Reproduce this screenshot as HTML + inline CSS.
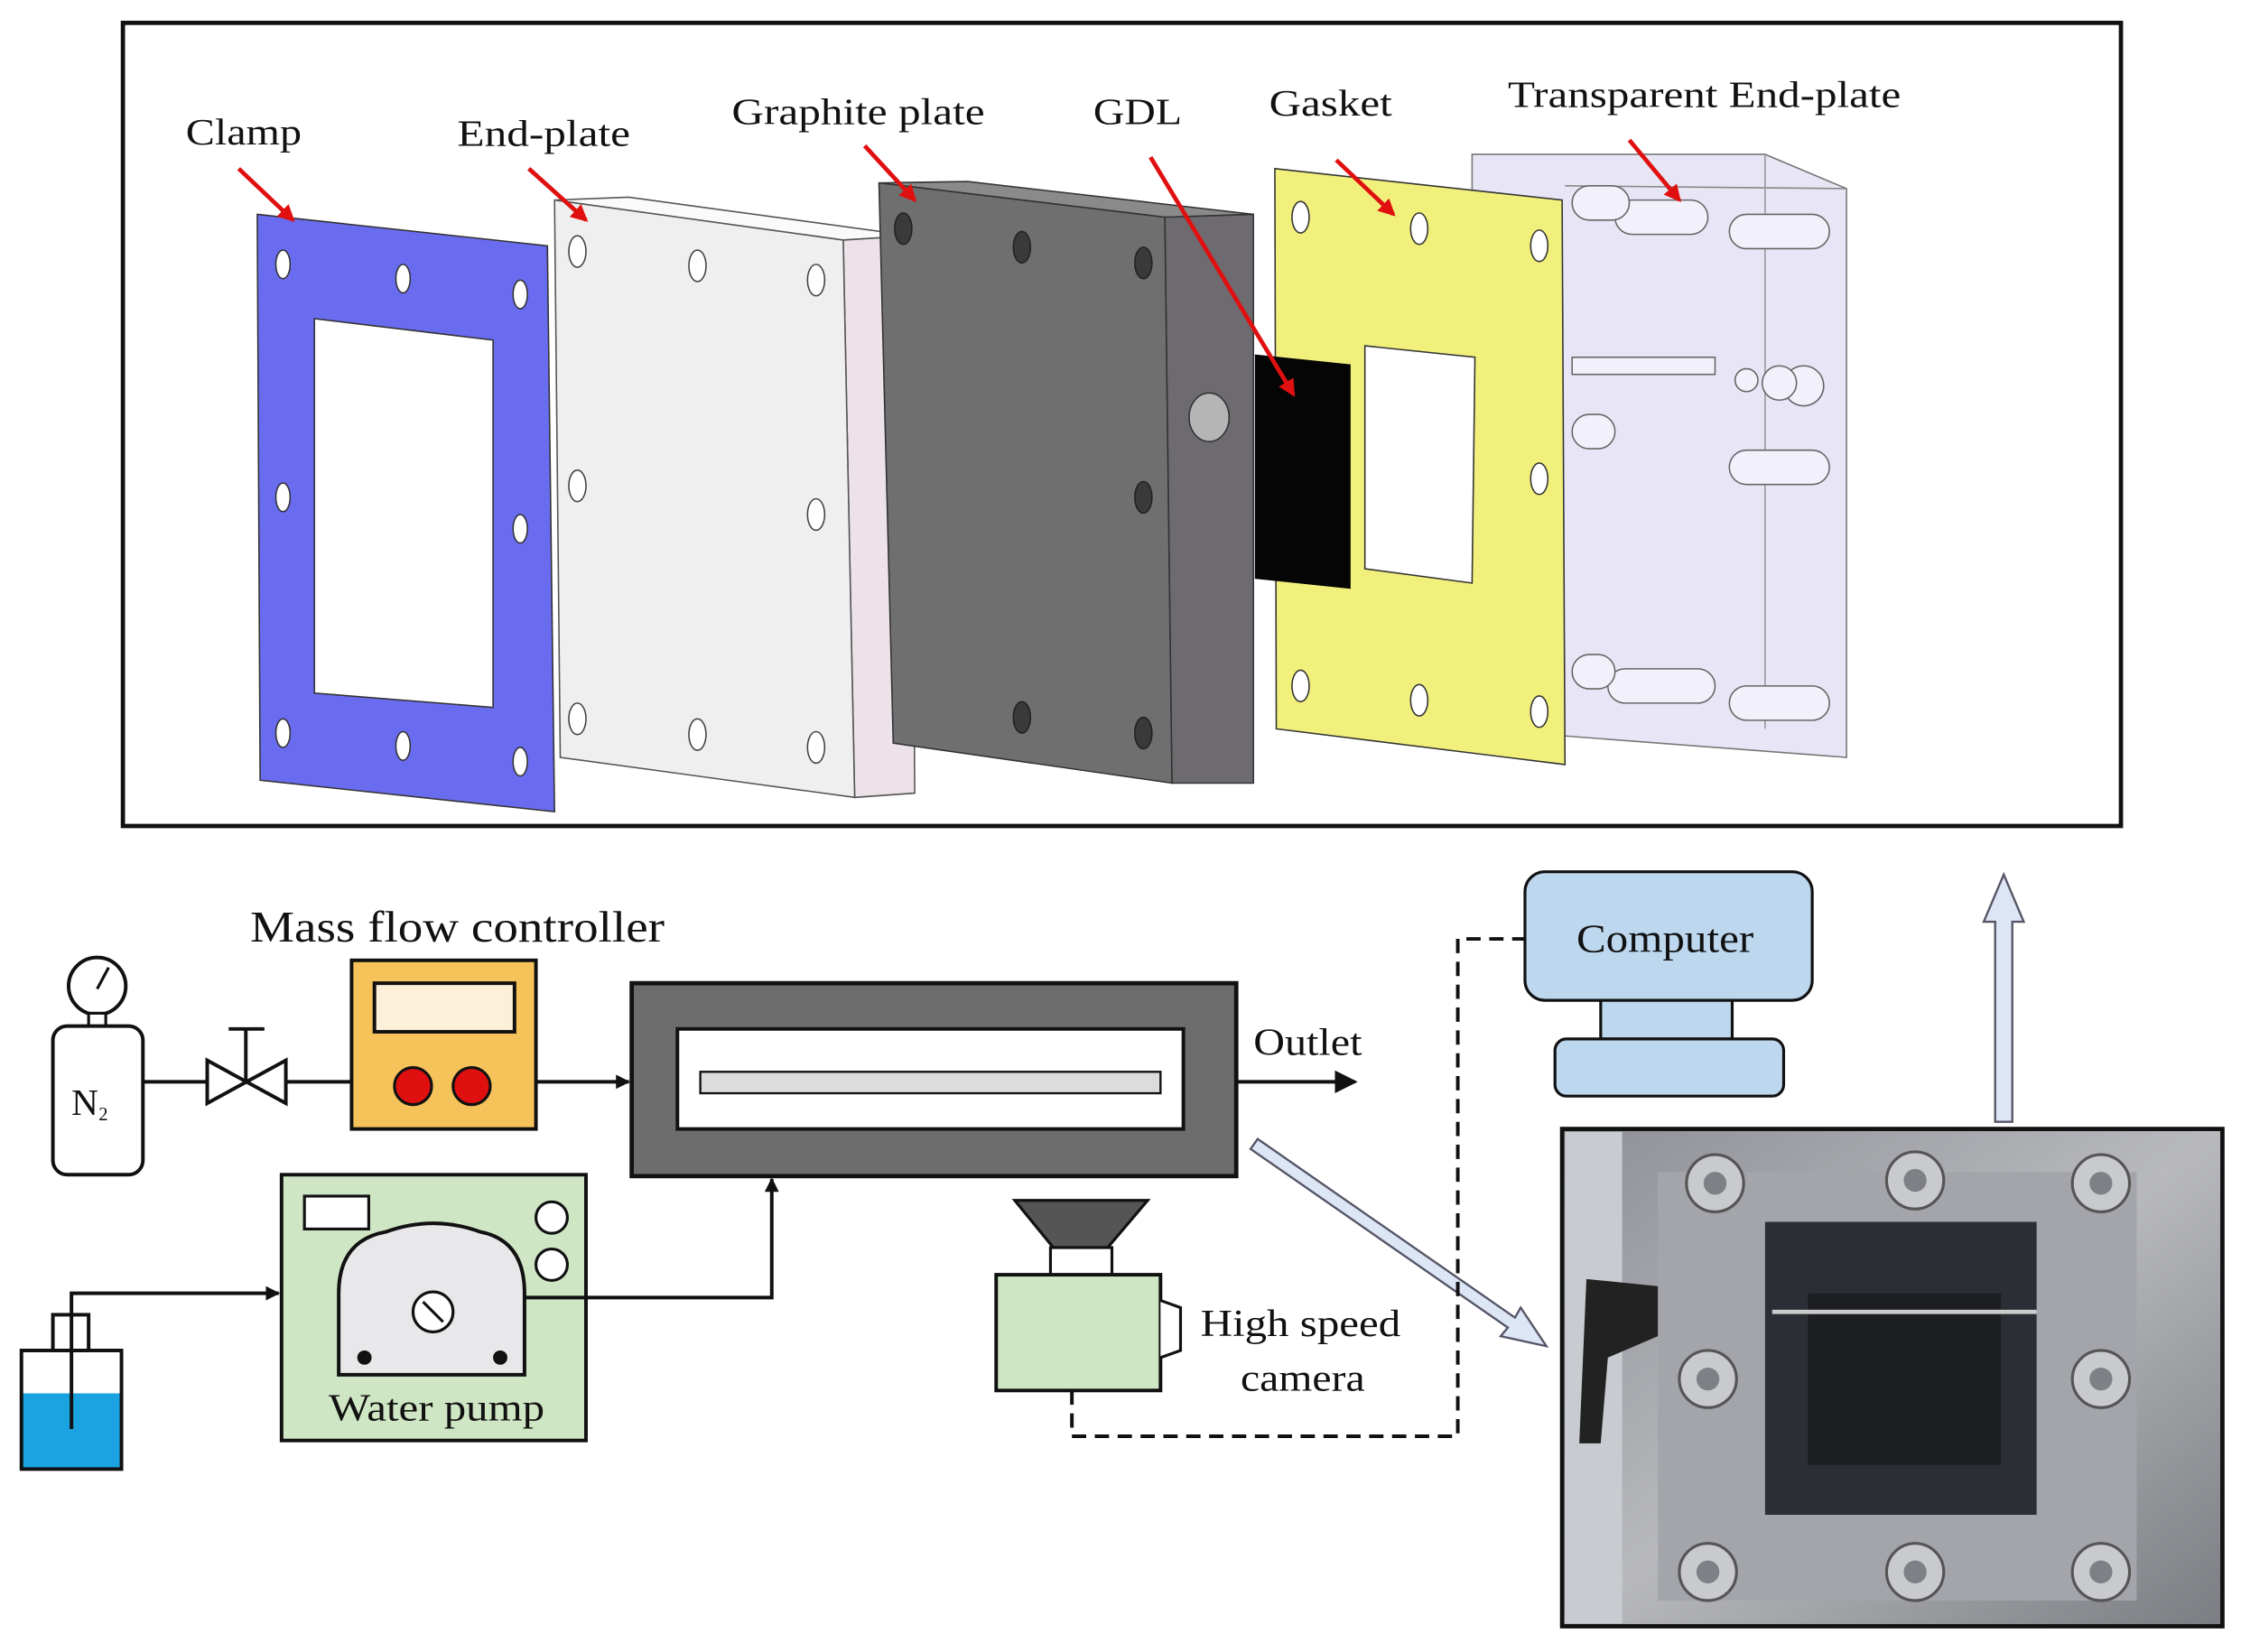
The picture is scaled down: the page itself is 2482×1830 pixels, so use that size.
<!DOCTYPE html>
<html><head><meta charset="utf-8"><style>
html,body{margin:0;padding:0;background:#fff;}
svg{display:block;}
text{font-family:"Liberation Serif",serif;fill:#111;}
</style></head><body>
<svg width="2482" height="1830" viewBox="0 0 1568 1156" preserveAspectRatio="none" xmlns="http://www.w3.org/2000/svg">
<defs>
<marker id="ar" markerWidth="10" markerHeight="10" refX="9" refY="5" orient="auto" markerUnits="userSpaceOnUse"><path d="M0,0 L10,5 L0,10 Z" fill="#111"/></marker>
<marker id="ab" markerWidth="16" markerHeight="16" refX="14" refY="8" orient="auto" markerUnits="userSpaceOnUse"><path d="M0,0 L16,8 L0,16 Z" fill="#111"/></marker>
<marker id="rr" markerWidth="12" markerHeight="12" refX="10" refY="6" orient="auto" markerUnits="userSpaceOnUse"><path d="M0,0 L12,6 L0,12 Z" fill="#e01010"/></marker>
<linearGradient id="ph" x1="0" y1="0" x2="1" y2="1"><stop offset="0" stop-color="#8e9096"/><stop offset="0.5" stop-color="#b8b9bd"/><stop offset="1" stop-color="#7b7d82"/></linearGradient>
</defs>
<rect x="0" y="0" width="1568" height="1156" fill="#fff"/>
<rect x="86" y="16" width="1398" height="562" fill="none" stroke="#111" stroke-width="3"/>

<!-- Clamp -->
<polygon points="180,150 383,172 388,568 182,546" fill="#6a6cf0" stroke="#333" stroke-width="1"/>
<polygon points="220,223 345,238 345,495 220,485" fill="#fff" stroke="#333" stroke-width="1"/>
<g fill="#fff" stroke="#333" stroke-width="1">
<ellipse cx="198" cy="185" rx="5" ry="10"/><ellipse cx="282" cy="195" rx="5" ry="10"/><ellipse cx="364" cy="206" rx="5" ry="10"/>
<ellipse cx="198" cy="348" rx="5" ry="10"/><ellipse cx="364" cy="370" rx="5" ry="10"/>
<ellipse cx="198" cy="513" rx="5" ry="10"/><ellipse cx="282" cy="522" rx="5" ry="10"/><ellipse cx="364" cy="533" rx="5" ry="10"/>
</g>
<!-- End-plate -->
<polygon points="388,140 440,138 638,165 590,168" fill="#fafafa" stroke="#555" stroke-width="1"/>
<polygon points="590,168 638,165 640,555 598,558" fill="#ede2ea" stroke="#555" stroke-width="1"/>
<polygon points="388,140 590,168 598,558 392,530" fill="#efefef" stroke="#555" stroke-width="1"/>
<g fill="#fff" stroke="#444" stroke-width="1">
<ellipse cx="404" cy="176" rx="6" ry="11"/><ellipse cx="488" cy="186" rx="6" ry="11"/><ellipse cx="571" cy="196" rx="6" ry="11"/>
<ellipse cx="404" cy="340" rx="6" ry="11"/><ellipse cx="571" cy="360" rx="6" ry="11"/>
<ellipse cx="404" cy="503" rx="6" ry="11"/><ellipse cx="488" cy="514" rx="6" ry="11"/><ellipse cx="571" cy="523" rx="6" ry="11"/>
</g>
<!-- Graphite plate -->
<polygon points="615,128 677,127 877,150 815,152" fill="#8a8a8a" stroke="#333" stroke-width="1"/>
<polygon points="815,152 877,150 877,548 820,548" fill="#6d6a70" stroke="#333" stroke-width="1"/>
<polygon points="615,128 815,152 820,548 625,520" fill="#6f6f6f" stroke="#333" stroke-width="1"/>
<g fill="#3a3a3a" stroke="#222" stroke-width="1">
<ellipse cx="632" cy="160" rx="6" ry="11"/><ellipse cx="715" cy="173" rx="6" ry="11"/><ellipse cx="800" cy="184" rx="6" ry="11"/>
<ellipse cx="800" cy="348" rx="6" ry="11"/>
<ellipse cx="715" cy="502" rx="6" ry="11"/><ellipse cx="800" cy="513" rx="6" ry="11"/>
</g>
<ellipse cx="846" cy="292" rx="14" ry="17" fill="#b5b5b5" stroke="#333"/>
<!-- Transparent end-plate -->
<polygon points="1030,108 1235,108 1292,132 1292,530 1095,515 1030,500" fill="#e8e6f6" stroke="#777" stroke-width="1"/>
<line x1="1095" y1="130" x2="1292" y2="132" stroke="#888"/>
<line x1="1235" y1="108" x2="1235" y2="510" stroke="#999"/>
<g fill="#f2f0fa" stroke="#666" stroke-width="1">
<rect x="1130" y="140" width="65" height="24" rx="12"/><rect x="1210" y="150" width="70" height="24" rx="12"/><rect x="1100" y="130" width="40" height="24" rx="12"/>
<rect x="1210" y="315" width="70" height="24" rx="12"/><rect x="1100" y="290" width="30" height="24" rx="12"/>
<rect x="1125" y="468" width="75" height="24" rx="12"/><rect x="1210" y="480" width="70" height="24" rx="12"/><rect x="1100" y="458" width="30" height="24" rx="12"/>
<rect x="1100" y="250" width="100" height="12"/>
<circle cx="1262" cy="270" r="14"/><circle cx="1245" cy="268" r="12"/><circle cx="1222" cy="266" r="8"/>
</g>
<!-- Gasket -->
<polygon points="892,118 1093,140 1095,535 893,510" fill="#f2f07c" stroke="#333" stroke-width="1"/>
<polygon points="955,242 1032,250 1030,408 955,398" fill="#fff" stroke="#333" stroke-width="1"/>
<g fill="#fff" stroke="#333" stroke-width="1">
<ellipse cx="910" cy="152" rx="6" ry="11"/><ellipse cx="993" cy="160" rx="6" ry="11"/><ellipse cx="1077" cy="172" rx="6" ry="11"/>
<ellipse cx="1077" cy="335" rx="6" ry="11"/>
<ellipse cx="910" cy="480" rx="6" ry="11"/><ellipse cx="993" cy="490" rx="6" ry="11"/><ellipse cx="1077" cy="498" rx="6" ry="11"/>
</g>
<!-- GDL -->
<polygon points="878,248 945,255 945,412 878,405" fill="#050505"/>
<!-- labels -->
<g font-size="26" lengthAdjust="spacingAndGlyphs">
<text x="130" y="101" textLength="81" lengthAdjust="spacingAndGlyphs">Clamp</text>
<text x="320" y="102" textLength="121" lengthAdjust="spacingAndGlyphs">End-plate</text>
<text x="512" y="87" textLength="177" lengthAdjust="spacingAndGlyphs">Graphite plate</text>
<text x="765" y="87" textLength="62" lengthAdjust="spacingAndGlyphs">GDL</text>
<text x="888" y="81" textLength="86" lengthAdjust="spacingAndGlyphs">Gasket</text>
<text x="1055" y="75" textLength="275" lengthAdjust="spacingAndGlyphs">Transparent End-plate</text>
</g>
<g stroke="#e01010" stroke-width="3" marker-end="url(#rr)">
<line x1="167" y1="118" x2="205" y2="154"/>
<line x1="370" y1="118" x2="410" y2="154"/>
<line x1="605" y1="102" x2="640" y2="140"/>
<line x1="805" y1="110" x2="905" y2="276"/>
<line x1="935" y1="112" x2="975" y2="150"/>
<line x1="1140" y1="98" x2="1175" y2="140"/>
</g>

<!-- Bottom schematic -->
<text x="175" y="659" font-size="31" textLength="290" lengthAdjust="spacingAndGlyphs">Mass flow controller</text>
<circle cx="68" cy="690" r="20" fill="#fff" stroke="#111" stroke-width="2.5"/>
<line x1="68" y1="692" x2="76" y2="677" stroke="#111" stroke-width="2"/>
<rect x="62" y="709" width="12" height="10" fill="#fff" stroke="#111" stroke-width="2"/>
<rect x="37" y="718" width="63" height="104" rx="10" fill="#fff" stroke="#111" stroke-width="2.5"/>
<text x="50" y="780" font-size="26">N</text><text x="69" y="784" font-size="13">2</text>
<line x1="100" y1="757" x2="145" y2="757" stroke="#111" stroke-width="2.5"/>
<polygon points="145,742 145,772 200,742 200,772" fill="#fff" stroke="#111" stroke-width="2.5"/>
<line x1="172" y1="757" x2="172" y2="720" stroke="#111" stroke-width="2.5"/>
<line x1="160" y1="720" x2="185" y2="720" stroke="#111" stroke-width="2.5"/>
<line x1="200" y1="757" x2="246" y2="757" stroke="#111" stroke-width="2.5"/>
<rect x="246" y="672" width="129" height="118" fill="#f6c35a" stroke="#111" stroke-width="2.5"/>
<rect x="262" y="688" width="98" height="34" fill="#fdf0d8" stroke="#111" stroke-width="2.5"/>
<circle cx="289" cy="760" r="13" fill="#e01010" stroke="#111" stroke-width="2"/>
<circle cx="330" cy="760" r="13" fill="#e01010" stroke="#111" stroke-width="2"/>
<line x1="375" y1="757" x2="440" y2="757" stroke="#111" stroke-width="2.5" marker-end="url(#ar)"/>
<rect x="442" y="688" width="423" height="135" fill="#6d6d6d" stroke="#111" stroke-width="3"/>
<rect x="474" y="720" width="354" height="70" fill="#fff" stroke="#111" stroke-width="2.5"/>
<rect x="490" y="750" width="322" height="15" fill="#dcdcdc" stroke="#111" stroke-width="1.5"/>
<line x1="865" y1="757" x2="948" y2="757" stroke="#111" stroke-width="2.5" marker-end="url(#ab)"/>
<text x="877" y="738" font-size="27" textLength="76" lengthAdjust="spacingAndGlyphs">Outlet</text>

<rect x="197" y="822" width="213" height="186" fill="#cfe6c4" stroke="#111" stroke-width="2.5"/>
<rect x="213" y="837" width="45" height="23" fill="#fff" stroke="#111" stroke-width="2"/>
<circle cx="386" cy="852" r="11" fill="#fff" stroke="#111" stroke-width="2"/>
<circle cx="386" cy="885" r="11" fill="#fff" stroke="#111" stroke-width="2"/>
<path d="M237,962 L237,905 Q237,868 270,862 Q303,850 336,862 Q367,868 367,905 L367,962 Z" fill="#e8e8ea" stroke="#111" stroke-width="2.5"/>
<circle cx="303" cy="918" r="14" fill="#fff" stroke="#111" stroke-width="2"/>
<line x1="296" y1="911" x2="310" y2="925" stroke="#111" stroke-width="2"/>
<circle cx="255" cy="950" r="5" fill="#111"/><circle cx="350" cy="950" r="5" fill="#111"/>
<text x="230" y="994" font-size="27" textLength="151" lengthAdjust="spacingAndGlyphs">Water pump</text>

<rect x="15" y="975" width="70" height="53" fill="#1aa3e0"/>
<rect x="15" y="945" width="70" height="83" fill="none" stroke="#111" stroke-width="2.5"/>
<rect x="37" y="920" width="25" height="25" fill="#fff" stroke="#111" stroke-width="2.5"/>
<polyline points="50,1000 50,905 195,905" fill="none" stroke="#111" stroke-width="2.5" marker-end="url(#ar)"/>
<polyline points="367,908 540,908 540,825" fill="none" stroke="#111" stroke-width="2.5" marker-end="url(#ar)"/>

<polygon points="880,797 1060,922 1064,915 1082,942 1050,935 1055,929 875,804" fill="#dde6f5" stroke="#556" stroke-width="1.5"/>
<polygon points="1396,785 1396,645 1388,645 1402,612 1416,645 1408,645 1408,785" fill="#dde6f5" stroke="#556" stroke-width="1.5"/>

<polygon points="710,840 803,840 775,873 737,873" fill="#555" stroke="#111" stroke-width="2"/>
<rect x="735" y="873" width="43" height="19" fill="#fff" stroke="#111" stroke-width="2"/>
<rect x="697" y="892" width="115" height="81" fill="#cfe6c4" stroke="#111" stroke-width="2.5"/>
<path d="M812,910 L826,915 L826,945 L812,950" fill="#fff" stroke="#111" stroke-width="2"/>
<text x="840" y="935" font-size="27" textLength="140" lengthAdjust="spacingAndGlyphs">High speed</text>
<text x="868" y="973" font-size="27" textLength="87" lengthAdjust="spacingAndGlyphs">camera</text>
<polyline points="750,973 750,1005 1020,1005 1020,657 1067,657" fill="none" stroke="#111" stroke-width="2.5" stroke-dasharray="10,6"/>

<rect x="1067" y="610" width="201" height="90" rx="14" fill="#bdd7ee" stroke="#111" stroke-width="2"/>
<text x="1103" y="666" font-size="28" textLength="124" lengthAdjust="spacingAndGlyphs">Computer</text>
<rect x="1120" y="700" width="92" height="27" fill="#bdd7ee" stroke="#111" stroke-width="2"/>
<rect x="1088" y="727" width="160" height="40" rx="8" fill="#bdd7ee" stroke="#111" stroke-width="2"/>

<!-- photo -->
<rect x="1093" y="790" width="462" height="348" fill="url(#ph)" stroke="#111" stroke-width="3"/>
<rect x="1095" y="792" width="40" height="344" fill="#c8cbd0"/>
<rect x="1160" y="820" width="335" height="300" fill="#a3a5aa"/>
<rect x="1235" y="855" width="190" height="205" fill="#2b2e34"/>
<rect x="1265" y="905" width="135" height="120" fill="#1c1e22"/>
<line x1="1240" y1="918" x2="1425" y2="918" stroke="#ccc" stroke-width="3"/>
<path d="M1110,895 L1160,900 L1160,935 L1125,950 L1120,1010 L1105,1010 Z" fill="#222"/>
<g fill="#c9cacd" stroke="#555" stroke-width="2">
<circle cx="1200" cy="828" r="20"/><circle cx="1340" cy="826" r="20"/><circle cx="1470" cy="828" r="20"/>
<circle cx="1195" cy="965" r="20"/><circle cx="1470" cy="965" r="20"/>
<circle cx="1195" cy="1100" r="20"/><circle cx="1340" cy="1100" r="20"/><circle cx="1470" cy="1100" r="20"/>
</g>
<g fill="#7f8085">
<circle cx="1200" cy="828" r="8"/><circle cx="1340" cy="826" r="8"/><circle cx="1470" cy="828" r="8"/>
<circle cx="1195" cy="965" r="8"/><circle cx="1470" cy="965" r="8"/>
<circle cx="1195" cy="1100" r="8"/><circle cx="1340" cy="1100" r="8"/><circle cx="1470" cy="1100" r="8"/>
</g>
</svg>
</body></html>
